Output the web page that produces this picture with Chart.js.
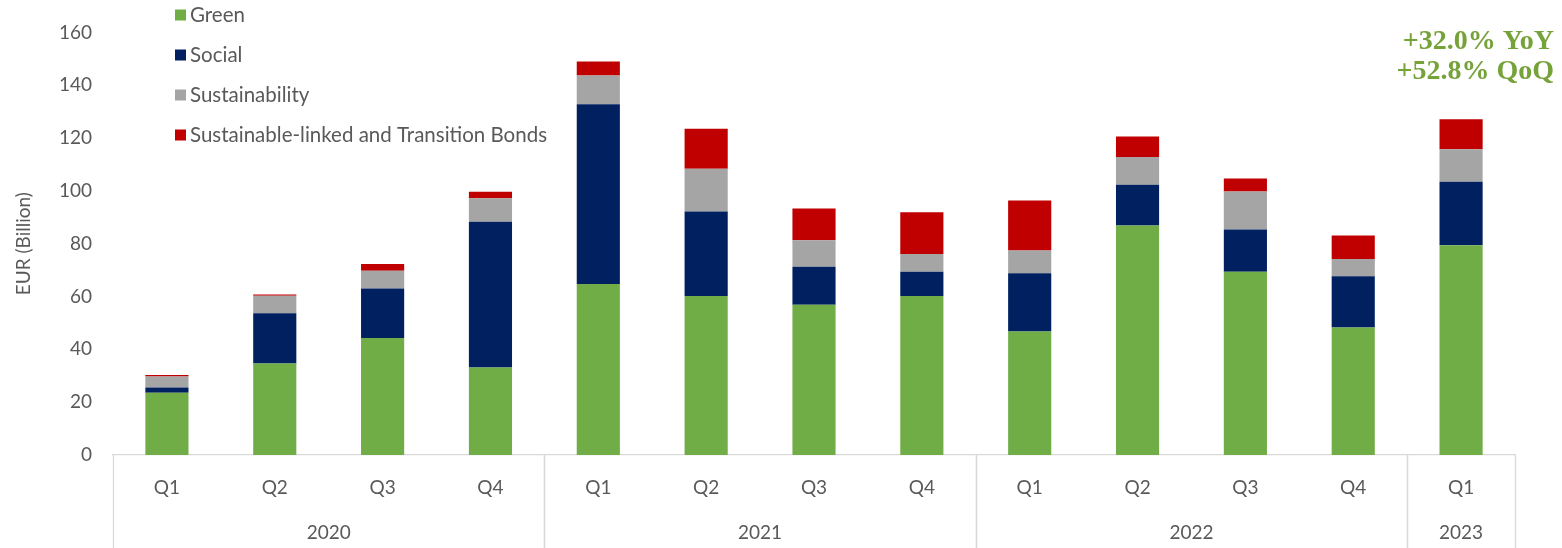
<!DOCTYPE html>
<html>
<head>
<meta charset="utf-8">
<title>Green, social and sustainability bond issuance</title>
<script src="https://cdn.jsdelivr.net/npm/chart.js@4.4.1/dist/chart.umd.min.js"></script>
<style>
    body { margin: 0; background: #fff; }
    #wrap { width: 1562px; height: 548px; }
</style>
</head>
<body>
<div id="wrap"><canvas id="myChart" width="1562" height="548"></canvas></div>
<script>
// categories
const quarters = ['Q1', 'Q2', 'Q3', 'Q4', 'Q1', 'Q2', 'Q3', 'Q4', 'Q1', 'Q2', 'Q3', 'Q4', 'Q1'];
const years = ['2020', '2020', '2020', '2020', '2021', '2021', '2021', '2021', '2022', '2022', '2022', '2022', '2023'];

// EUR billion
const green = [23.6, 34.6, 44.3, 33.1, 64.7, 60.2, 56.9, 60.2, 46.8, 86.9, 69.4, 48.3, 79.4];
const social = [2.0, 19.1, 18.7, 55.2, 68.1, 32.0, 14.4, 9.2, 22.0, 15.4, 16.0, 19.4, 24.1];
const sustainability = [4.1, 6.6, 6.8, 8.9, 10.9, 16.2, 10.0, 6.7, 8.6, 10.5, 14.4, 6.5, 12.3];
const linkedTransition = [0.6, 0.5, 2.5, 2.5, 5.3, 15.1, 12.0, 15.8, 19.0, 7.8, 4.9, 8.9, 11.3];

const yTicks = [0, 20, 40, 60, 80, 100, 120, 140, 160];
const notes = ['+32.0% YoY', '+52.8% QoQ'];

const textColor = '#595959';
const lineColor = '#D9D9D9';
const fontName = 'Lato, "Open Sans", sans-serif';

// legend drawn inside the plot, top left, one item per row
const legendPlugin = {
    id: 'sideLegend',
    afterDraw(chart) {
        const ctx = chart.ctx;
        ctx.save();
        ctx.font = '20.5px ' + fontName;
        ctx.textBaseline = 'middle';
        ctx.textAlign = 'left';
        chart.data.datasets.forEach((ds, i) => {
            const y = 15 + i * 40;
            ctx.fillStyle = ds.backgroundColor;
            ctx.fillRect(175, y - 5.5, 11, 11);
            ctx.fillStyle = textColor;
            ctx.fillText(ds.label, 190, y);
        });
        ctx.restore();
    }
};

// year row under the quarters, with the group separators
const yearPlugin = {
    id: 'yearGroups',
    afterDraw(chart) {
        const ctx = chart.ctx;
        const xs = chart.scales.x;
        const w = (xs.right - xs.left) / quarters.length;
        const top = chart.chartArea.bottom;
        const bottom = chart.height;
        ctx.save();
        ctx.strokeStyle = lineColor;
        ctx.lineWidth = 1.3;

        let start = 0;
        for (let i = 1; i <= years.length; i++) {
            if (i === years.length || years[i] !== years[start]) {
                const x0 = xs.getPixelForValue(start) - w / 2;
                const x1 = xs.getPixelForValue(i - 1) + w / 2;
                ctx.beginPath();
                ctx.moveTo(Math.round(x0) + 0.5, top);
                ctx.lineTo(Math.round(x0) + 0.5, bottom);
                ctx.moveTo(Math.round(x1) + 0.5, top);
                ctx.lineTo(Math.round(x1) + 0.5, bottom);
                ctx.stroke();
                ctx.fillStyle = textColor;
                ctx.font = '19px ' + fontName;
                ctx.textAlign = 'center';
                ctx.textBaseline = 'middle';
                ctx.fillText(years[start], (x0 + x1) / 2, 533);
                start = i;
            }
        }
        ctx.restore();
    }
};

// growth figures, top right
const notePlugin = {
    id: 'growthNote',
    afterDraw(chart) {
        const ctx = chart.ctx;
        ctx.save();
        ctx.font = 'bold 28px "Liberation Serif", "DejaVu Serif", serif';
        ctx.fillStyle = '#76A23A';
        ctx.textAlign = 'right';
        ctx.textBaseline = 'alphabetic';
        notes.forEach((t, i) => {
            ctx.fillText(t, 1554, 49 + i * 30);
        });
        ctx.restore();
    }
};

function createChart() {
    const ctx = document.getElementById('myChart').getContext('2d');

    new Chart(ctx, {
        type: 'bar',
        data: {
            labels: quarters,
            datasets: [
                { label: 'Green', data: green, backgroundColor: '#70AD47' },
                { label: 'Social', data: social, backgroundColor: '#002060' },
                { label: 'Sustainability', data: sustainability, backgroundColor: '#A5A5A5' },
                { label: 'Sustainable-linked and Transition Bonds', data: linkedTransition, backgroundColor: '#C00000' }
            ]
        },
        options: {
            responsive: false,
            animation: false,
            devicePixelRatio: 1,
            layout: { padding: { top: 32, right: 47, left: 0, bottom: 0 } },
            datasets: {
                bar: { categoryPercentage: 1, barPercentage: 0.4 }
            },
            plugins: {
                legend: { display: false },
                tooltip: { enabled: false }
            },
            scales: {
                x: {
                    stacked: true,
                    grid: { display: false, drawTicks: false },
                    border: { display: true, color: lineColor, width: 1.3 },
                    ticks: {
                        color: textColor,
                        font: { family: fontName, size: 19 },
                        padding: 21,
                        maxRotation: 0
                    },
                    afterFit: (scale) => { scale.height = 93; }
                },
                y: {
                    stacked: true,
                    min: yTicks[0],
                    max: yTicks[yTicks.length - 1],
                    grid: { display: false, drawTicks: false },
                    border: { display: false },
                    afterBuildTicks: (scale) => {
                        scale.ticks = yTicks.map(v => ({ value: v }));
                    },
                    ticks: {
                        color: textColor,
                        font: { family: fontName, size: 19 },
                        padding: 21
                    },
                    title: {
                        display: true,
                        text: 'EUR (Billion)',
                        color: textColor,
                        font: { family: fontName, size: 19 },
                        padding: { top: 12, bottom: 0 }
                    },
                    afterFit: (scale) => { scale.width = 113; }
                }
            }
        },
        plugins: [legendPlugin, yearPlugin, notePlugin]
    });
}

window.onload = () => {
    createChart();
};
</script>
</body>
</html>
